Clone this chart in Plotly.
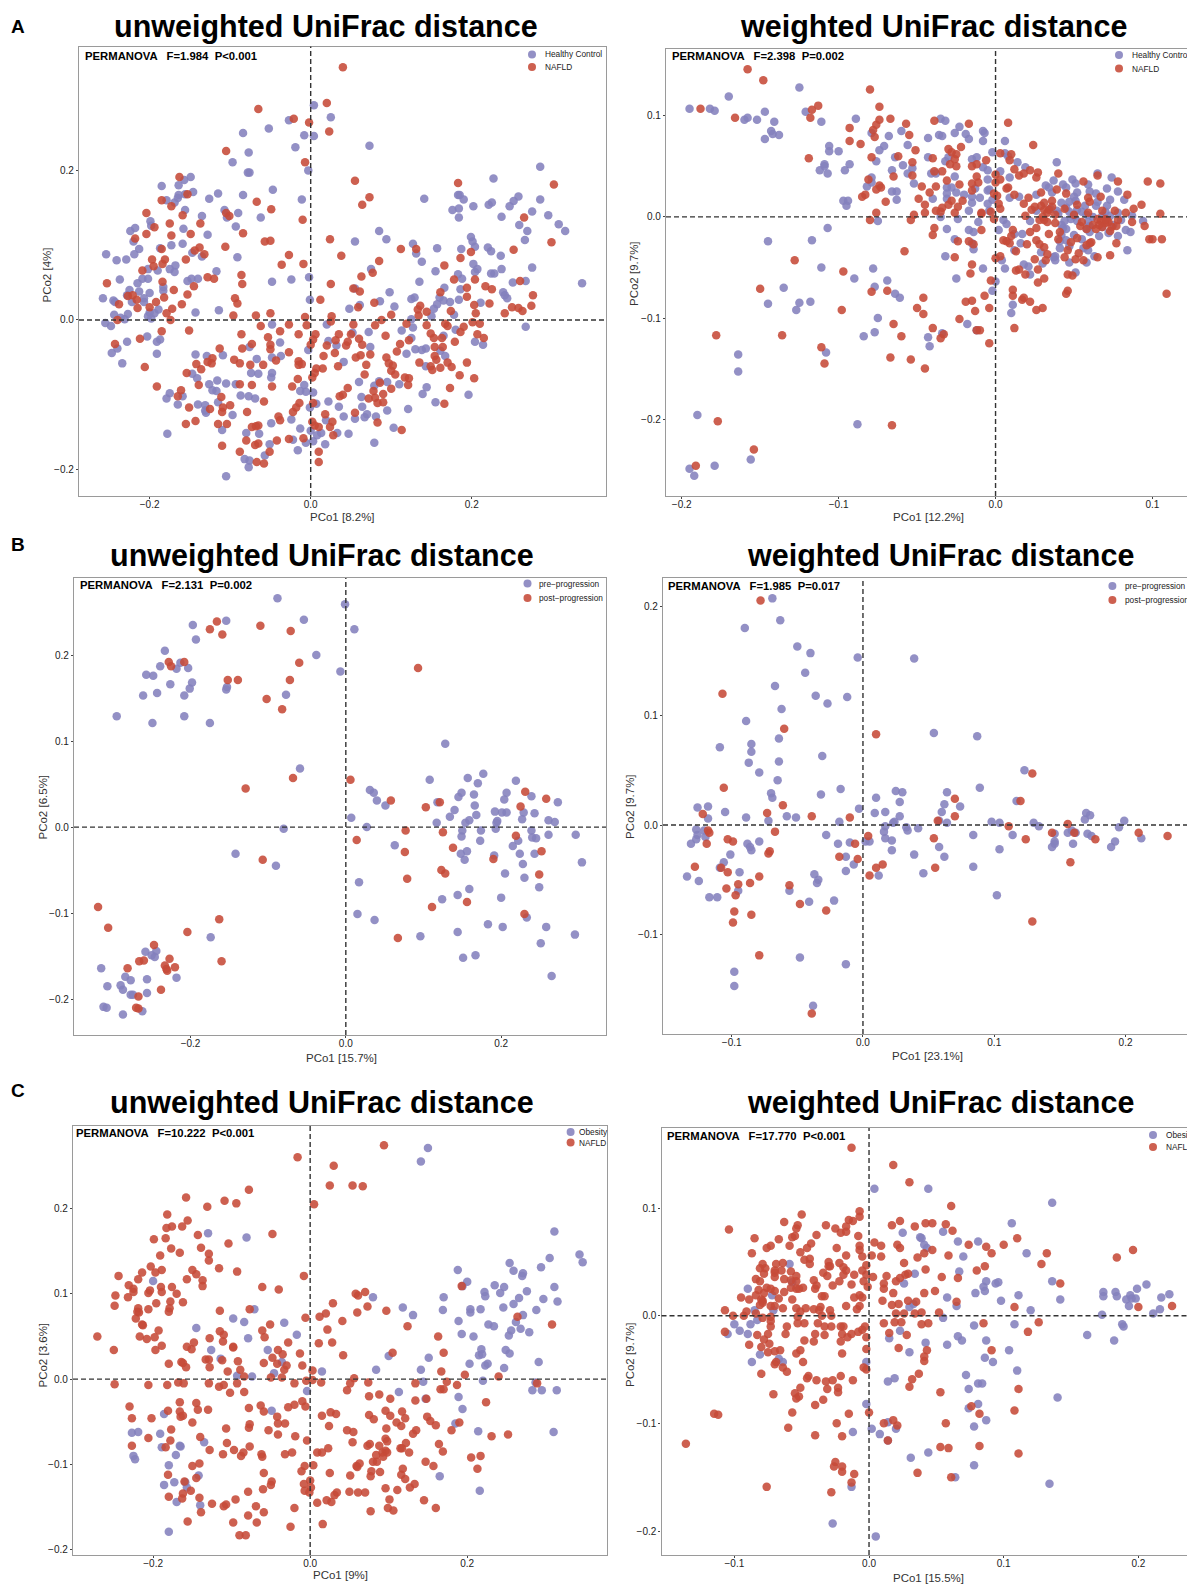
import plotly.graph_objects as go

# All point values are PCo scores x 1000, as (PCo1, PCo2)
a1_control = [(4,287),(25,271),(-27,267),(-52,256),(-84,250),(-8,247),(4,246),(-19,231),(73,233),(-77,224),(-97,211),(-78,197),(-76,197),(-3,200),(285,205),(227,189),(-149,191),(-157,187),(-164,180),(-185,179),(-146,171),(-156,168),(-164,167),(-47,174),(-115,169),(-84,167),(-126,162),(-165,163),(-179,160),(-169,157),(-11,161),(141,162),(183,167),(185,167),(190,161),(258,165),(252,159),(285,161),(247,152),(225,157),(221,154),(202,152),(176,147),(184,149),(-156,147),(-107,147),(275,145),(-90,143),(-135,139),(-104,137),(-62,137),(184,137),(237,138),(295,140),(-199,132),(-198,126),(259,127),(308,128),(-93,125),(-218,123),(-224,119),(-158,122),(269,119),(316,119),(-128,114),(85,119),(199,111),(-220,105),(94,108),(55,105),(201,105),(266,107),(-173,100),(-159,102),(127,102),(204,98),(220,97),(157,96),(187,95),(-213,95),(-187,96),(224,92),(-219,88),(-254,88),(131,89),(-147,90),(236,86),(-91,84),(-229,81),(-241,80),(-135,85),(138,78),(202,75),(-168,73),(75,68),(237,68),(207,68),(204,64),(275,70),(-202,68),(-175,68),(-190,66),(-117,65),(-169,64),(155,65),(224,62),(228,62),(183,61),(-237,54),(-202,55),(-209,55),(-2,57),(-24,54),(-140,55),(-148,55),(-153,52),(188,55),(-48,51),(135,51),(251,50),(267,52),(337,49),(-215,49),(-183,44),(166,43),(186,41),(55,42),(98,37),(-213,38),(-200,36),(-225,40),(-183,39),(239,37),(241,33),(244,29),(-228,33),(129,30),(125,28),(160,30),(165,26),(86,25),(184,27),(-258,29),(-1,27),(173,24),(-245,26),(-243,24),(-207,29),(-222,24),(-207,24),(211,23),(61,20),(157,21),(104,18),(48,15),(153,15),(-189,14),(-143,10),(-114,13),(-194,9),(-200,10),(-202,5),(-244,7),(-227,8),(178,7),(150,5),(-236,3),(-231,1),(-198,2),(125,1),(-255,-4),(-248,-8),(-48,-6),(20,-6),(267,-9),(127,-10),(113,-14),(180,-13),(52,-17),(72,-16),(165,-21),(-203,-22),(-187,-26),(-191,-29),(-228,-29),(22,-28),(204,-29),(-38,-30),(-76,-36),(32,-34),(74,-36),(214,-33),(125,-24),(143,-38),(130,-39),(138,-40),(161,-41),(-247,-44),(-240,-38),(-191,-45),(-3,-40),(-143,-46),(119,-45),(167,-48),(-129,-48),(-37,-48),(-48,-50),(-109,-47),(-67,-52),(-234,-58),(41,-56),(143,-62),(-48,-71),(-65,-72),(-74,-71),(-147,-72),(-141,-78),(-49,-77),(-116,-81),(-126,-86),(-105,-85),(-93,-86),(-8,-87),(60,-83),(110,-86),(95,-83),(85,-82),(79,-88),(144,-90),(-122,-94),(-117,-95),(-13,-95),(-6,-96),(3,-97),(-175,-98),(-87,-101),(-77,-102),(-69,-105),(63,-103),(139,-99),(196,-100),(-179,-105),(-159,-102),(-165,-113),(-140,-113),(-131,-114),(-115,-110),(155,-110),(7,-112),(22,-109),(35,-116),(64,-116),(-1,-117),(121,-119),(95,-121),(-131,-121),(-130,-124),(-97,-127),(70,-126),(41,-129),(55,-132),(67,-130),(81,-129),(19,-134),(-24,-133),(-49,-138),(-110,-147),(103,-144),(-13,-145),(0,-148),(-178,-152),(-80,-151),(-64,-152),(13,-151),(33,-151),(47,-152),(8,-154),(-22,-160),(3,-162),(-6,-164),(79,-164),(18,-166),(-51,-166),(-16,-174),(-57,-181),(-82,-186),(-76,-188),(-77,-197),(-105,-209)]
a1_nafld = [(40,338),(20,290),(-65,282),(-21,269),(-2,264),(23,252),(-105,226),(-7,211),(55,186),(-163,191),(183,183),(302,181),(73,164),(64,154),(-153,168),(-185,160),(-67,158),(-173,152),(-49,148),(-204,143),(-105,143),(-101,139),(-159,140),(-10,134),(-137,129),(-175,129),(265,137),(-194,124),(-204,115),(-173,113),(-149,115),(-84,116),(-218,109),(-57,105),(-50,106),(24,108),(299,104),(-106,98),(112,95),(131,95),(252,94),(199,91),(-185,95),(-138,97),(-144,93),(-132,88),(-27,87),(38,86),(186,83),(-197,81),(-181,81),(-155,81),(-184,75),(85,79),(-36,74),(-9,75),(166,73),(-195,72),(-209,66),(77,63),(-86,60),(63,58),(-128,57),(-120,55),(178,54),(204,54),(260,52),(-184,51),(-85,48),(25,48),(-145,45),(217,45),(-253,49),(53,42),(194,43),(225,41),(-170,40),(61,38),(-153,34),(-227,32),(-221,33),(161,37),(276,33),(-94,29),(12,27),(-182,30),(194,31),(-91,22),(-216,27),(-192,24),(79,23),(203,20),(222,22),(-160,21),(-238,21),(274,19),(-215,16),(-200,17),(-172,15),(59,17),(136,19),(250,17),(258,16),(263,12),(133,14),(144,11),(174,12),(205,9),(241,9),(134,6),(-179,9),(-96,6),(-68,6),(-50,9),(26,5),(100,7),(-7,4),(-174,0),(-240,0),(88,0),(201,-3),(119,-5),(25,-2),(-5,-7),(210,-5),(167,-5),(144,-7),(-62,-8),(-27,-6),(53,-6),(80,-7),(170,-8),(190,-9),(-151,-14),(-185,-15),(-38,-15),(186,-16),(149,-18),(-86,-19),(-15,-19),(50,-19),(6,-19),(93,-21),(207,-19),(215,-24),(-212,-25),(-53,-23),(35,-19),(153,-24),(163,-24),(60,-25),(31,-27),(122,-27),(46,-29),(3,-26),(-243,-32),(111,-32),(179,-29),(64,-33),(-50,-33),(-73,-32),(20,-34),(0,-33),(44,-34),(-113,-38),(-85,-38),(-50,-39),(154,-36),(164,-36),(-27,-43),(107,-42),(74,-46),(30,-44),(62,-47),(56,-50),(16,-48),(94,-50),(154,-48),(-122,-51),(-95,-53),(-128,-56),(-43,-54),(-15,-55),(156,-53),(-88,-58),(-142,-59),(-123,-58),(-11,-59),(135,-57),(170,-57),(194,-57),(-75,-60),(-59,-60),(69,-60),(97,-58),(102,-61),(149,-62),(175,-63),(-206,-63),(34,-62),(7,-65),(15,-65),(-15,-60),(161,-64),(-136,-66),(100,-68),(151,-67),(-154,-71),(5,-71),(67,-73),(105,-73),(2,-77),(185,-74),(-16,-79),(117,-77),(203,-78),(122,-78),(-139,-87),(-191,-89),(-88,-86),(-48,-89),(-73,-87),(-23,-89),(121,-87),(100,-92),(86,-84),(173,-91),(46,-91),(90,-99),(40,-100),(-161,-94),(-165,-102),(78,-95),(80,-104),(72,-105),(36,-102),(-111,-103),(90,-110),(-58,-109),(3,-111),(83,-111),(166,-112),(-100,-114),(-109,-117),(-151,-117),(-125,-119),(-14,-111),(-18,-117),(-110,-123),(-79,-123),(-22,-123),(55,-124),(18,-126),(-40,-129),(-38,-134),(-143,-135),(27,-136),(2,-136),(83,-137),(-155,-139),(-115,-139),(-104,-139),(5,-141),(10,-143),(-65,-141),(-68,-142),(-73,-143),(24,-143),(113,-147),(28,-154),(-27,-159),(-9,-158),(-42,-161),(-80,-161),(-65,-165),(-110,-168),(-69,-167),(10,-176),(-88,-176),(-51,-176),(-67,-190),(-58,-192),(10,-190)]

a2_control = [(-195,107),(-182,107),(-179,105),(-170,119),(-125,128),(-160,96),(-158,98),(-152,96),(-147,104),(-141,94),(-143,85),(-142,82),(-147,77),(-138,81),(-121,104),(-111,94),(-89,97),(-79,83),(-68,80),(-60,85),(-35,97),(-32,95),(-23,89),(-26,83),(-19,82),(-17,77),(-8,85),(-7,83),(-8,75),(6,75),(-43,78),(-36,81),(-34,80),(-56,71),(-71,70),(-74,66),(-106,70),(-106,65),(-100,65),(-64,59),(-43,59),(-30,59),(-32,55),(-76,55),(-109,52),(-109,50),(-93,52),(-96,46),(-112,46),(-107,43),(-59,51),(-53,48),(-66,46),(-56,43),(-41,43),(-38,43),(-15,57),(-12,59),(-2,64),(6,63),(8,60),(-8,49),(-5,46),(3,45),(14,54),(19,49),(39,54),(-26,40),(-5,37),(9,39),(37,36),(65,43),(74,39),(49,37),(-79,39),(-79,34),(-82,30),(-52,33),(-66,25),(-63,25),(-63,17),(-31,29),(-28,29),(-31,23),(-40,18),(-31,18),(-25,24),(-20,22),(-13,28),(-5,26),(-4,27),(-15,20),(-10,19),(-15,14),(-2,17),(-5,13),(-97,16),(-94,16),(-95,11),(-35,0),(-17,6),(-4,6),(-24,-2),(-75,-4),(-11,-5),(5,-3),(7,-7),(9,19),(15,20),(32,31),(34,29),(43,32),(52,24),(59,32),(71,28),(78,25),(64,23),(82,17),(73,17),(47,15),(52,7),(57,11),(64,11),(71,11),(45,9),(39,6),(26,22),(36,24),(51,16),(45,29),(51,33),(26,6),(47,5),(94,-4),(87,1),(78,4),(73,1),(58,2),(50,1),(44,-4),(59,-5),(68,1),(60,-9),(43,-11),(52,-4),(83,-13),(86,-15),(78,-19),(66,-19),(72,-16),(42,-18),(45,-23),(41,-24),(47,-29),(59,-33),(56,-31),(84,-33),(41,-31),(63,-39),(58,-45),(38,-39),(37,-40),(29,-35),(38,-43),(47,-45),(30,-46),(51,-55),(12,-33),(16,-26),(17,-17),(12,-17),(2,-13),(22,-4),(-31,-12),(-17,-13),(-14,-15),(-26,-22),(-15,-26),(-14,-32),(-32,-39),(4,-43),(6,-51),(-8,-51),(18,-47),(21,-49),(22,-57),(0,-64),(-2,-73),(-25,-61),(-111,-50),(-78,-51),(-90,-61),(-69,-63),(-77,-69),(-64,-76),(-61,-80),(-135,-70),(-145,-86),(-125,-85),(-118,-84),(-127,-92),(-75,-100),(11,-87),(10,-95),(-18,-106),(-12,-112),(-77,-114),(-84,-118),(-43,-119),(-34,-115),(-42,-128),(-108,-134),(-164,-136),(-164,-153),(-190,-196),(-88,-205),(-156,-240),(-179,-246),(-195,-249),(-192,-256),(-145,-24),(-117,-23),(-107,-11),(48,-2),(40,3),(55,5),(62,0),(65,15),(70,5),(45,-12),(50,-18),(60,-15),(55,-22),(68,-10),(75,-8),(80,-3),(42,-8),(58,-12),(50,20),(60,25),(42,14),(35,8)]
a2_nafld = [(-158,146),(-148,135),(-80,126),(-74,109),(-113,110),(-117,106),(-188,107),(-166,98),(-118,98),(-67,97),(-74,96),(-76,91),(-57,92),(-39,95),(-17,92),(8,93),(-93,88),(-78,86),(-55,81),(-77,79),(-93,75),(-86,72),(24,71),(-22,69),(-30,67),(-51,66),(-28,64),(-25,62),(3,63),(10,62),(-62,60),(-40,58),(-79,59),(-119,58),(-26,57),(-6,56),(9,56),(-53,54),(-29,52),(-25,50),(-15,50),(-12,52),(12,47),(27,44),(22,46),(18,43),(-34,45),(-39,45),(15,41),(-53,41),(-65,40),(40,43),(26,39),(65,41),(-12,40),(0,42),(-11,34),(-15,33),(-81,37),(-31,36),(0,34),(3,37),(78,35),(56,35),(97,35),(105,33),(-74,31),(-73,29),(-76,27),(-47,30),(-38,30),(-23,32),(7,28),(8,29),(-83,22),(-85,20),(-42,24),(-49,18),(-1,23),(1,21),(-15,26),(12,22),(29,24),(39,27),(45,23),(84,22),(59,19),(67,20),(21,19),(-70,15),(-45,12),(-28,16),(-21,16),(-30,12),(18,13),(31,14),(36,16),(29,11),(93,12),(88,8),(2,13),(3,8),(23,7),(31,7),(33,4),(-38,6),(-34,9),(-24,10),(-9,4),(-3,5),(-76,4),(-52,2),(-45,4),(-26,4),(-35,5),(-9,3),(19,1),(83,4),(105,3),(59,4),(68,6),(-80,-3),(-54,-3),(-1,-2),(31,-3),(38,-6),(71,-3),(78,-3),(87,-5),(95,-9),(67,-4),(66,-8),(54,-9),(26,-11),(34,-17),(22,-15),(11,-13),(10,-19),(-39,-11),(-40,-18),(-9,-13),(77,-9),(73,-14),(52,-21),(40,-22),(98,-22),(100,-22),(106,-22),(5,-23),(7,-24),(9,-26),(20,-27),(26,-23),(28,-27),(-24,-24),(-17,-24),(-14,-27),(77,-26),(61,-25),(31,-30),(60,-26),(13,-34),(-58,-34),(46,-33),(53,-36),(73,-38),(33,-37),(65,-40),(-128,-43),(-26,-40),(3,-39),(0,-41),(25,-42),(44,-40),(51,-42),(56,-43),(32,-43),(-15,-47),(27,-52),(15,-52),(13,-53),(-97,-54),(-16,-56),(19,-57),(46,-57),(49,-58),(-3,-63),(31,-61),(27,-65),(-150,-71),(-79,-74),(-69,-73),(11,-72),(46,-73),(45,-76),(109,-76),(-7,-78),(11,-78),(-46,-80),(18,-80),(17,-82),(-19,-84),(-15,-83),(22,-84),(30,-90),(26,-92),(-50,-90),(-4,-90),(-98,-92),(-13,-93),(-46,-96),(-23,-101),(-65,-106),(12,-110),(-40,-110),(-12,-112),(-10,-112),(-136,-117),(-178,-117),(-60,-118),(-33,-116),(-35,-120),(-4,-125),(-111,-129),(-67,-139),(-109,-145),(-54,-141),(-45,-150),(-177,-202),(-66,-206),(-154,-230),(-191,-246),(65,-2),(70,-6),(62,-8),(68,-10),(58,-12),(72,-5),(64,-12),(55,-5),(50,2),(34,7),(36,10),(30,0),(33,-5),(28,-3),(38,2),(25,10),(41,-15),(48,-25),(58,-28),(70,-2),(44,8),(52,12),(60,15),(76,6),(74,-10)]

b1_pre = [(-88,266),(-1,259),(-54,241),(11,230),(-197,235),(-154,240),(-193,218),(-233,205),(-38,200),(-7,181),(-239,187),(-213,191),(-218,184),(-203,185),(-257,177),(-248,176),(-226,166),(-198,168),(-201,161),(-243,156),(-261,153),(-208,153),(-153,163),(-154,160),(-77,154),(-295,129),(-208,129),(-249,121),(-175,121),(128,97),(-59,68),(108,55),(157,57),(177,62),(170,51),(219,54),(31,43),(36,40),(40,31),(149,40),(145,35),(165,38),(207,40),(204,32),(239,36),(273,29),(118,29),(51,25),(166,25),(140,20),(192,18),(201,17),(207,17),(229,17),(243,16),(7,11),(134,12),(168,14),(159,8),(154,5),(117,5),(227,9),(195,7),(194,5),(261,8),(269,6),(27,0),(-80,-2),(193,-2),(150,-4),(174,-4),(239,-4),(149,-11),(261,-9),(296,-9),(240,-12),(245,-13),(173,-16),(222,-16),(215,-22),(63,-21),(-142,-31),(148,-31),(156,-28),(224,-31),(243,-31),(191,-33),(153,-38),(-90,-45),(228,-43),(304,-41),(205,-54),(230,-59),(17,-64),(159,-72),(249,-70),(144,-79),(124,-84),(200,-82),(15,-101),(37,-108),(233,-105),(183,-113),(202,-116),(258,-116),(144,-122),(96,-127),(295,-125),(-174,-128),(251,-135),(167,-149),(151,-152),(265,-173),(-258,-145),(-244,-144),(-250,-149),(-246,-151),(-315,-164),(-284,-174),(-277,-178),(-256,-177),(-218,-175),(-307,-185),(-290,-184),(-287,-189),(-277,-195),(-274,-195),(-256,-193),(-312,-209),(-308,-210),(-287,-218),(-262,-214)]
b1_post = [(-166,239),(-175,230),(-159,224),(-110,234),(-71,228),(-228,192),(-225,187),(-208,192),(-60,191),(93,185),(-152,171),(-139,171),(-72,171),(-102,149),(-82,137),(-68,57),(6,55),(-129,45),(58,31),(121,29),(231,41),(258,33),(103,23),(225,24),(77,-4),(125,-6),(14,-15),(219,-10),(138,-24),(76,-29),(252,-28),(190,-37),(-107,-38),(123,-50),(128,-54),(249,-55),(79,-60),(156,-87),(111,-93),(230,-101),(67,-129),(-319,-93),(-306,-117),(-163,-107),(-204,-122),(-247,-137),(-227,-153),(-266,-156),(-260,-155),(-160,-156),(-233,-161),(-231,-165),(-230,-167),(-220,-163),(-281,-164),(-238,-189),(-267,-197),(-270,-210),(-267,-211)]

b2_pre = [(-69,207),(-63,187),(-90,180),(-50,163),(-40,157),(-4,153),(39,152),(-44,139),(-67,127),(-36,118),(-12,117),(-27,111),(-62,106),(-89,95),(54,84),(87,81),(-64,79),(-85,74),(-85,67),(-109,71),(-31,63),(-64,58),(-87,57),(-79,48),(-65,41),(123,50),(89,34),(-17,33),(-70,29),(-69,25),(-32,28),(25,31),(30,30),(10,25),(64,30),(28,21),(62,19),(74,17),(117,22),(-126,16),(-118,17),(-105,12),(-118,6),(-89,7),(-58,8),(-51,7),(-3,15),(9,11),(17,12),(60,12),(28,8),(-72,4),(-18,3),(58,4),(98,3),(104,2),(170,11),(173,9),(169,5),(199,4),(64,2),(23,2),(24,3),(130,2),(-127,-4),(-121,-5),(-126,-9),(-127,-13),(-120,-11),(17,-1),(42,-3),(33,-2),(34,-5),(16,-6),(-28,-9),(84,-9),(114,-9),(134,-1),(159,-5),(156,-7),(162,-7),(171,-8),(146,-8),(195,-2),(174,-10),(212,-12),(-131,-17),(-88,-17),(-79,-15),(-86,-20),(-85,-23),(-19,-17),(-10,-16),(2,-15),(5,-15),(17,-12),(22,-14),(22,-23),(58,-20),(146,-15),(146,-17),(160,-17),(144,-20),(192,-15),(189,-20),(104,-22),(-101,-27),(-13,-29),(39,-27),(62,-29),(-7,-36),(-106,-34),(-109,-39),(-94,-43),(84,-38),(-37,-45),(-13,-42),(46,-44),(12,-46),(-134,-47),(-34,-50),(-35,-53),(-125,-51),(-95,-60),(-56,-60),(-117,-66),(-111,-66),(102,-64),(-41,-70),(-22,-69),(-48,-121),(-13,-127),(-98,-134),(-98,-147),(-38,-165)]
b2_post = [(-78,205),(-107,120),(-60,88),(10,83),(129,47),(-106,34),(70,24),(120,22),(-61,18),(-73,11),(-122,10),(-39,8),(-10,7),(70,8),(57,4),(156,1),(111,-1),(-118,-5),(-117,-7),(-67,-6),(144,-7),(161,-7),(4,-10),(54,-12),(124,-13),(177,-13),(210,-7),(232,-10),(-103,-13),(-99,-15),(-119,-17),(-6,-17),(-71,-24),(-72,-26),(-18,-29),(-4,-31),(-128,-38),(-108,-39),(15,-36),(10,-39),(55,-39),(158,-34),(-103,-43),(-79,-47),(5,-46),(-86,-53),(-95,-54),(-56,-55),(-104,-58),(-97,-64),(-48,-72),(-28,-78),(-98,-79),(-85,-82),(-99,-89),(129,-88),(-79,-119),(-39,-172)]

c1_obesity = [(150,271),(141,255),(-130,171),(-81,166),(311,173),(343,146),(347,137),(305,142),(254,136),(294,131),(188,128),(259,127),(271,124),(270,121),(-200,115),(200,114),(194,109),(235,110),(247,108),(311,108),(222,102),(242,101),(276,103),(223,97),(170,96),(80,96),(266,95),(297,94),(315,91),(259,88),(246,84),(118,84),(-71,82),(169,81),(204,82),(217,82),(288,81),(204,78),(131,75),(271,75),(-98,71),(-84,67),(189,68),(-33,66),(262,67),(227,64),(234,62),(-145,60),(268,59),(256,57),(279,55),(-17,52),(193,53),(253,51),(208,50),(-79,48),(-126,34),(-54,34),(218,35),(249,34),(215,28),(219,29),(254,30),(100,27),(151,25),(-114,24),(-36,20),(291,20),(203,18),(226,18),(223,16),(247,13),(84,11),(141,11),(15,9),(-46,7),(-93,4),(-74,3),(144,-3),(220,-2),(287,-4),(-4,-14),(113,-15),(283,-13),(295,-13),(314,-13),(189,-21),(147,-23),(194,-35),(-186,-41),(-49,-37),(185,-52),(-227,-63),(-219,-62),(-191,-64),(214,-61),(310,-62),(-135,-74),(-189,-80),(-166,-78),(-165,-79),(-171,-89),(-225,-90),(-223,-94),(-180,-101),(-142,-113),(165,-114),(-173,-121),(-159,-121),(-186,-124),(-157,-127),(216,-131),(-170,-144),(-140,-148),(-180,-179)]
c1_nafld = [(94,274),(-16,260),(30,250),(25,227),(54,227),(67,226),(-78,222),(-158,213),(-109,209),(-94,206),(5,205),(-131,202),(-182,193),(-156,186),(-176,179),(-183,177),(-163,179),(-143,169),(-48,170),(-199,164),(-184,165),(-104,159),(-139,154),(-177,153),(-166,148),(-129,147),(-191,145),(-129,139),(-203,132),(-116,130),(-150,128),(-93,126),(-189,128),(-197,125),(-145,123),(-214,125),(-244,121),(-8,121),(-219,117),(-157,117),(-137,116),(-231,110),(-137,109),(-176,108),(-61,108),(-225,106),(-190,108),(-40,105),(193,109),(-204,104),(-206,101),(-225,102),(-189,102),(-170,100),(70,102),(58,100),(61,98),(-248,98),(-232,96),(-178,91),(-162,90),(29,89),(-249,86),(-196,89),(73,85),(-77,82),(-219,83),(-206,82),(-179,83),(-115,80),(97,80),(-220,79),(-218,78),(60,78),(-180,79),(20,77),(-6,72),(12,73),(-222,71),(264,73),(41,68),(-51,64),(124,62),(-214,64),(-213,63),(308,64),(22,58),(-61,57),(-193,57),(-115,56),(-110,52),(-271,50),(-217,50),(-198,49),(-128,48),(-58,49),(-208,47),(163,50),(-28,43),(11,42),(28,43),(-148,43),(-111,44),(-189,39),(-98,38),(-157,38),(-151,35),(-41,34),(-197,34),(-250,34),(-98,37),(105,31),(170,31),(-13,30),(-35,29),(-48,25),(42,28),(-133,23),(-129,23),(-112,22),(-92,21),(-180,18),(-164,20),(-162,19),(-59,19),(-42,18),(-30,16),(-10,16),(-158,14),(-128,14),(-89,11),(-33,11),(-105,9),(3,10),(167,9),(197,5),(240,3),(-84,3),(-50,2),(-36,2),(56,1),(-5,-2),(3,-1),(14,-4),(-20,-5),(-249,-6),(-206,-7),(-182,-7),(-168,-4),(-161,-5),(-129,-5),(-110,-7),(-93,-5),(-116,-9),(51,-5),(74,-4),(134,-5),(174,-3),(187,-7),(289,-5),(-102,-16),(-84,-15),(47,-13),(166,-12),(170,-12),(75,-20),(88,-18),(-10,-26),(102,-23),(148,-23),(134,-25),(-166,-27),(-145,-28),(224,-27),(-20,-30),(-63,-31),(-6,-32),(-28,-33),(-230,-32),(-78,-34),(-143,-36),(-130,-36),(-181,-37),(-59,-38),(-166,-38),(96,-37),(117,-38),(26,-39),(33,-41),(15,-43),(75,-42),(121,-46),(-162,-43),(-165,-44),(102,-43),(-42,-44),(149,-44),(81,-47),(-227,-46),(-202,-46),(153,-49),(-150,-51),(-41,-52),(-32,-52),(110,-51),(190,-51),(116,-55),(160,-54),(-77,-53),(-78,-57),(24,-55),(-107,-58),(97,-58),(-177,-59),(-53,-60),(47,-60),(55,-62),(135,-60),(180,-60),(131,-64),(-41,-65),(-19,-67),(252,-65),(231,-67),(-206,-69),(-140,-68),(96,-70),(98,-73),(-178,-72),(-4,-72),(54,-74),(-227,-78),(-106,-75),(76,-76),(73,-78),(-77,-79),(122,-75),(164,-76),(-184,-80),(88,-78),(115,-81),(117,-81),(-128,-83),(23,-81),(-97,-83),(-85,-86),(-111,-88),(9,-86),(15,-86),(-32,-88),(-23,-86),(169,-85),(126,-86),(-62,-88),(-88,-90),(-61,-91),(96,-84),(92,-86),(98,-86),(84,-89),(93,-91),(205,-92),(217,-90),(-141,-99),(-150,-102),(80,-97),(85,-97),(147,-97),(157,-102),(-7,-102),(4,-101),(59,-102),(63,-99),(60,-103),(213,-105),(118,-105),(-59,-110),(-11,-108),(25,-110),(78,-108),(89,-109),(-181,-112),(51,-113),(77,-114),(116,-112),(-145,-116),(121,-117),(-49,-120),(-160,-120),(0,-119),(-50,-124),(133,-123),(-8,-123),(127,-127),(1,-127),(96,-128),(-60,-129),(-152,-131),(111,-130),(-7,-131),(-1,-133),(-79,-132),(50,-132),(61,-133),(70,-133),(34,-133),(31,-136),(-162,-134),(-180,-138),(-141,-139),(-163,-140),(101,-141),(145,-142),(21,-142),(27,-144),(-95,-141),(9,-145),(-125,-146),(-107,-147),(-110,-149),(-69,-149),(-20,-151),(160,-151),(99,-151),(-139,-156),(-59,-156),(77,-155),(106,-154),(-79,-160),(-156,-167),(-98,-168),(-68,-168),(16,-170),(-25,-173),(-90,-183),(-82,-183)]

c2_obesity = [(4,118),(44,118),(136,105),(106,86),(25,77),(55,78),(38,73),(39,72),(81,69),(66,69),(41,66),(43,63),(117,58),(70,55),(-59,48),(67,41),(34,39),(136,32),(87,32),(94,30),(96,31),(85,27),(26,30),(-57,31),(206,29),(-90,25),(199,25),(86,23),(79,21),(174,22),(183,22),(174,18),(184,18),(194,19),(223,20),(217,17),(111,19),(58,17),(191,15),(198,16),(195,16),(98,14),(142,15),(-72,19),(193,9),(65,9),(33,11),(30,8),(120,5),(216,6),(-85,5),(-71,5),(211,2),(173,1),(55,-2),(-83,-4),(-100,-8),(-88,-8),(78,-9),(108,-8),(-96,-14),(-90,-17),(-105,-17),(188,-8),(189,-10),(23,-14),(162,-18),(15,-21),(66,-19),(69,-23),(182,-23),(87,-23),(42,-25),(58,-27),(104,-32),(30,-34),(-81,-36),(86,-39),(92,-43),(-67,-40),(-87,-43),(-2,-43),(-64,-43),(110,-51),(72,-55),(19,-58),(14,-61),(81,-63),(84,-63),(74,-68),(140,-76),(81,-82),(74,-86),(-2,-82),(87,-97),(14,-99),(78,-103),(2,-105),(20,-105),(-12,-108),(8,-110),(14,-116),(44,-127),(31,-132),(78,-139),(64,-150),(134,-156),(-13,-159),(-27,-193),(5,-205)]
c2_nafld = [(-13,156),(18,140),(30,124),(61,102),(-7,97),(-7,92),(-50,94),(-63,87),(-15,89),(-12,88),(23,88),(42,86),(47,86),(57,85),(-53,84),(17,84),(34,83),(-104,80),(-32,84),(-54,81),(-17,83),(-25,81),(62,79),(-21,77),(-17,78),(-57,73),(-55,74),(-39,75),(-85,72),(-8,74),(110,72),(-67,71),(4,68),(100,66),(-73,65),(-76,63),(-59,65),(-43,67),(-7,65),(9,65),(21,66),(23,63),(74,66),(87,64),(-46,63),(-24,63),(-7,61),(47,61),(132,58),(-51,59),(-87,58),(91,58),(41,58),(59,56),(-5,55),(2,56),(9,55),(-17,56),(196,61),(184,54),(36,54),(-48,52),(-44,53),(-44,48),(-30,50),(26,49),(128,48),(-69,48),(-64,49),(-22,49),(-30,46),(-29,46),(-2,47),(-79,48),(86,46),(-81,44),(-77,44),(-70,42),(-65,42),(-19,45),(-17,42),(42,43),(80,42),(-58,41),(-5,42),(-70,40),(-78,39),(-34,40),(-19,38),(-11,38),(27,38),(29,39),(-2,38),(13,37),(-31,37),(-54,37),(-70,36),(3,36),(54,36),(66,35),(23,35),(-84,34),(-63,34),(-58,33),(-54,32),(-41,33),(-81,32),(20,32),(-22,32),(11,30),(-4,32),(142,30),(-27,28),(-13,29),(-39,28),(-1,27),(-76,26),(-58,26),(-54,25),(-49,26),(11,25),(-40,25),(-82,24),(-73,25),(-70,23),(-52,25),(-63,22),(18,21),(49,23),(41,21),(-78,21),(-84,19),(-7,19),(-35,18),(-33,18),(-11,17),(-5,17),(-95,17),(-89,15),(-67,16),(-57,15),(-80,15),(-79,14),(10,14),(22,11),(29,14),(35,13),(65,13),(17,10),(-79,12),(-17,9),(-81,10),(-7,9),(-36,8),(-73,9),(-70,9),(-9,6),(-64,7),(200,8),(108,8),(225,9),(-47,7),(-41,6),(-54,7),(-51,4),(-37,5),(-29,5),(52,3),(-107,5),(-101,0),(-93,0),(-91,4),(-84,2),(-73,-1),(-35,0),(-28,0),(20,2),(26,2),(34,2),(39,3),(-79,-2),(-53,-1),(-73,-5),(-48,-7),(11,-7),(19,-6),(24,-6),(44,-7),(39,-8),(126,-6),(85,-7),(-38,-7),(-53,-7),(-21,-10),(-19,-10),(-3,-10),(-73,-10),(-61,-10),(-33,-10),(-28,-10),(118,-15),(-107,-15),(15,-16),(-75,-17),(-62,-17),(-40,-17),(-33,-18),(-20,-17),(-13,-17),(-8,-15),(-5,-13),(-83,-18),(28,-18),(-16,-20),(-2,-20),(-78,-22),(-48,-23),(-41,-24),(-21,-24),(-74,-26),(-89,-27),(-80,-29),(22,-30),(-2,-31),(43,-32),(91,-32),(-66,-32),(-70,-33),(-75,-34),(-51,-32),(-54,-35),(-20,-35),(41,-38),(41,-42),(-69,-43),(-49,-43),(-70,-45),(-4,-48),(-64,-48),(-2,-50),(-61,-52),(-80,-54),(37,-54),(-21,-56),(-45,-56),(-46,-58),(32,-59),(-39,-60),(-32,-61),(-27,-60),(-12,-60),(30,-66),(-23,-67),(-51,-67),(-31,-68),(-23,-71),(111,-68),(53,-71),(-71,-73),(-55,-72),(-52,-75),(-54,-77),(-34,-78),(-40,-83),(76,-84),(108,-88),(-57,-90),(82,-91),(-15,-91),(0,-90),(-115,-91),(-112,-92),(18,-97),(11,-100),(57,-100),(-24,-100),(21,-102),(-60,-104),(-40,-111),(-20,-112),(14,-116),(-136,-119),(53,-122),(59,-123),(82,-121),(111,-128),(-25,-136),(-26,-140),(-20,-140),(-20,-145),(-11,-147),(36,-146),(61,-150),(-13,-155),(-76,-159),(-28,-164)]

W, H = 1187, 1585
PURPLE, RED = "#8481BD", "#C64A38"
FONT = "Liberation Sans"


def px(x):
    return x / W


def py(y):
    return 1 - y / H


panels = [
    dict(g="unweighted UniFrac distance", tc=(325.5, 26.5), a=a1_control, b=a1_nafld, names=("Healthy Control", "NAFLD"),
         stat="PERMANOVA   F=1.984  P<0.001", st=(83.4, 55.7), frame=(79, 606, 46.5, 496), xr=(-0.2877, 0.3667), yr=(-0.2353, 0.3656),
         xd=0.2, yd=0.2, xt="PCo1 [8.2%]", xtp=(342, 517), yt="PCo2 [4%]", ytp=(46.5, 275), leg=(532, 542.5, 54.5, 67), right=True),
    dict(g="weighted UniFrac distance", tc=(933, 26.5), a=a2_control, b=a2_nafld, names=("Healthy Control", "NAFLD"),
         stat="PERMANOVA   F=2.398  P=0.002", st=(669.6, 56.4), frame=(666, 1187, 49, 496), xr=(-0.21, 0.122), yr=(-0.276, 0.166),
         xd=0.1, yd=0.1, xt="PCo1 [12.2%]", xtp=(928, 517), yt="PCo2 [9.7%]", ytp=(634, 274), leg=(1119, 1129.7, 55, 68.6), right=False),
    dict(g="unweighted UniFrac distance", tc=(321.5, 555), a=b1_pre, b=b1_post, names=("pre\u2212progression", "post\u2212progression"),
         stat="PERMANOVA   F=2.131  P=0.002", st=(77.5, 585), frame=(74, 606, 578, 1035), xr=(-0.350, 0.335), yr=(-0.2417, 0.2896),
         xd=0.2, yd=0.1, xt="PCo1 [15.7%]", xtp=(341, 1058), yt="PCo2 [6.5%]", ytp=(42.5, 807), leg=(527.5, 537, 583.6, 598), right=True),
    dict(g="weighted UniFrac distance", tc=(940, 555), a=b2_pre, b=b2_post, names=("pre\u2212progression", "post\u2212progression"),
         stat="PERMANOVA   F=1.985  P=0.017", st=(666, 586), frame=(663, 1187, 578, 1034), xr=(-0.1523, 0.2468), yr=(-0.1908, 0.2256),
         xd=0.1, yd=0.1, xt="PCo1 [23.1%]", xtp=(927, 1056), yt="PCo2 [9.7%]", ytp=(630, 807), leg=(1112.4, 1123, 586, 600), right=False),
    dict(g="unweighted UniFrac distance", tc=(321.5, 1102), a=c1_obesity, b=c1_nafld, names=("Obesity", "NAFLD"),
         stat="PERMANOVA   F=10.222  P<0.001", st=(74.3, 1132.5), frame=(73, 607, 1126, 1555), xr=(-0.302, 0.378), yr=(-0.2062, 0.2967),
         xd=0.2, yd=0.1, xt="PCo1 [9%]", xtp=(340, 1575), yt="PCo2 [3.6%]", ytp=(42.5, 1355), leg=(570.6, 576.5, 1132, 1142.5), right=True),
    dict(g="weighted UniFrac distance", tc=(940, 1102), a=c2_obesity, b=c2_nafld, names=("Obesity", "NAFLD"),
         stat="PERMANOVA   F=17.770  P<0.001", st=(665, 1136), frame=(661.5, 1187, 1128, 1555), xr=(-0.1541, 0.2361), yr=(-0.2223, 0.1744),
         xd=0.1, yd=0.1, xt="PCo1 [15.5%]", xtp=(928, 1578), yt="PCo2 [9.7%]", ytp=(630, 1355), leg=(1153, 1164, 1135, 1147), right=False),
]

fig = go.Figure()
annotations, shapes = [], []


def text(s, x, y, size, bold=False, anchor="center", color="#111111", angle=0):
    annotations.append(dict(text=f"<b>{s}</b>" if bold else s, x=px(x), y=py(y), xref="paper", yref="paper",
                            showarrow=False, xanchor=anchor, yanchor="middle", textangle=angle,
                            font=dict(family=FONT, size=size, color=color)))


layout_axes = {}
for i, p in enumerate(panels, start=1):
    s = "" if i == 1 else str(i)
    x0, x1, y0, y1 = p["frame"]
    frame_line = dict(showline=True, linecolor="#9A9A9A", linewidth=1.4)
    layout_axes[f"xaxis{s}"] = dict(domain=[px(x0), px(x1)], range=list(p["xr"]), anchor=f"y{s}", dtick=p["xd"], tick0=0,
                                    tickformat=".1f", ticks="outside", ticklen=2, tickcolor="#444444", tickwidth=1,
                                    showgrid=False, zeroline=False, mirror=True, ticklabelstandoff=-3,
                                    tickfont=dict(family=FONT, size=10, color="#222222"), **frame_line)
    layout_axes[f"yaxis{s}"] = dict(domain=[py(y1), py(y0)], range=list(p["yr"]), anchor=f"x{s}", dtick=p["yd"], tick0=0,
                                    tickformat=".1f", ticks="outside", ticklen=2, tickcolor="#444444", tickwidth=1,
                                    showgrid=False, zeroline=False, mirror=p["right"],
                                    tickfont=dict(family=FONT, size=10, color="#222222"), **frame_line)
    for pts, name, col in ((p["a"], p["names"][0], PURPLE), (p["b"], p["names"][1], RED)):
        fig.add_trace(go.Scatter(x=[v[0] / 1000 for v in pts], y=[v[1] / 1000 for v in pts], mode="markers", name=name,
                                 xaxis=f"x{s}", yaxis=f"y{s}", showlegend=False,
                                 marker=dict(size=8.5, color=col, opacity=0.88, line=dict(width=0))))
    dash = dict(color="#333333", width=1.4, dash="5px,3px")
    shapes.append(dict(type="line", xref=f"x{s} domain", x0=0, x1=1, yref=f"y{s}", y0=0, y1=0, line=dash))
    shapes.append(dict(type="line", yref=f"y{s} domain", y0=0, y1=1, xref=f"x{s}", x0=0, x1=0, line=dash))
    text(p["g"], *p["tc"], 30.5, bold=True, color="#000000")
    text(p["stat"], *p["st"], 11.3, bold=True, anchor="left", color="#000000")
    text(p["xt"], *p["xtp"], 11.5, color="#333333")
    text(p["yt"], *p["ytp"], 11.5, color="#333333", angle=-90)
    mx, tx, ly0, ly1 = p["leg"]
    for ly, name, col in ((ly0, p["names"][0], PURPLE), (ly1, p["names"][1], RED)):
        shapes.append(dict(type="circle", xref="paper", yref="paper", xsizemode="pixel", ysizemode="pixel",
                           xanchor=px(mx), yanchor=py(ly), x0=-4, x1=4, y0=-4, y1=4,
                           fillcolor=col, opacity=0.88, line=dict(width=0)))
        text(name, tx, ly, 8.3, anchor="left", color="#222222")

for letter, y in (("A", 27), ("B", 544), ("C", 1090)):
    text(letter, 17.5, y, 19, bold=True, color="#000000")

fig.update_layout(width=W, height=H, margin=dict(l=0, r=0, t=0, b=0), paper_bgcolor="white", plot_bgcolor="white",
                  showlegend=False, annotations=annotations, shapes=shapes, **layout_axes)
fig.write_html("out.html", config=dict(displayModeBar=False),
               post_script="document.body.style.margin='0';document.documentElement.style.overflow='hidden';")
